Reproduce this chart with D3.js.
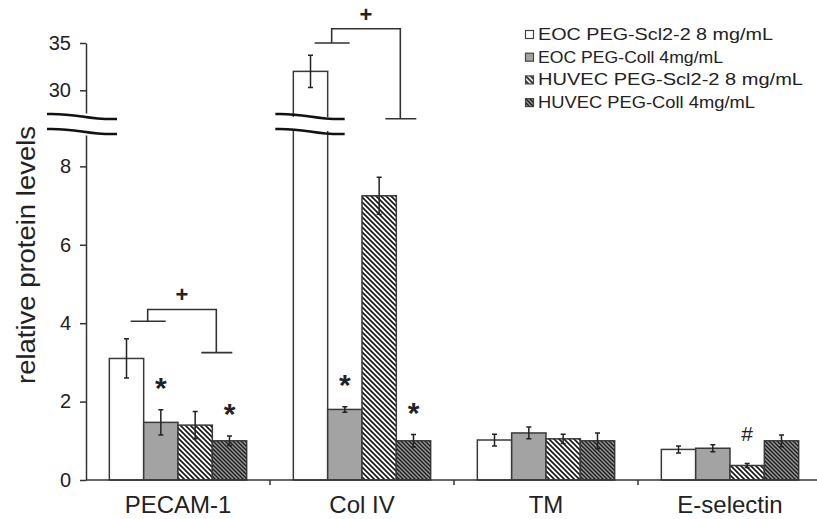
<!DOCTYPE html>
<html>
<head>
<meta charset="utf-8">
<script src="https://cdn.jsdelivr.net/npm/d3@7"></script>
<style>
  body { margin: 0; background: #fff; }
  text { font-family: Arial, "Liberation Sans", sans-serif; fill: #222; }
</style>
</head>
<body>
<svg id="chart" width="817" height="519"></svg>
<script>
// data
var categories = ["PECAM-1", "Col IV", "TM", "E-selectin"];
var seriesNames = ["EOC PEG-Scl2-2 8 mg/mL", "EOC PEG-Coll 4mg/mL", "HUVEC PEG-Scl2-2 8 mg/mL", "HUVEC PEG-Coll 4mg/mL"];
var eocScl = [3.1, 32.0, 1.02, 0.78];
var eocSclErr = [0.5, 1.7, 0.15, 0.09];
var eocColl = [1.47, 1.8, 1.2, 0.81];
var eocCollErr = [0.32, 0.07, 0.15, 0.09];
var huvecScl = [1.4, 7.25, 1.05, 0.37];
var huvecSclErr = [0.35, 0.47, 0.12, 0.05];
var huvecColl = [1.0, 1.0, 1.0, 1.0];
var huvecCollErr = [0.12, 0.16, 0.2, 0.15];
var lowTicks = [0, 2, 4, 6, 8];
var highTicks = [30, 35];
// significance marks: [category, series index, symbol]
var marks = [["PECAM-1", 1, "*"], ["PECAM-1", 3, "*"], ["Col IV", 1, "*"], ["Col IV", 3, "*"], ["E-selectin", 2, "#"]];
// brackets: category, left level, top level, right level
var brackets = [["PECAM-1", 4.05, 4.35, 3.25], ["Col IV", 35, 36.5, 27]];

var values = [eocScl, eocColl, huvecScl, huvecColl];
var errors = [eocSclErr, eocCollErr, huvecSclErr, huvecCollErr];

var svg = d3.select("#chart");

var x = d3.scaleBand().domain(categories).range([86, 822]).padding(0);
var xs = d3.scaleBand().domain(d3.range(4)).range([0, x.bandwidth()]).paddingInner(0).paddingOuter(0.68);
var yLow = d3.scaleLinear().domain([0, 8.8]).range([480, 135]);
var yHigh = d3.scaleLinear().domain([27.6, 35]).range([113, 43]);
function y(v) { return v <= 8.8 ? yLow(v) : yHigh(v); }

// hatch patterns
var defs = svg.append("defs");
function hatch(id, bg, size, w) {
    var p = defs.append("pattern").attr("id", id).attr("patternUnits", "userSpaceOnUse")
        .attr("width", size).attr("height", size);
    p.append("rect").attr("width", size).attr("height", size).attr("fill", bg);
    p.append("path")
        .attr("d", "M0,0L" + size + "," + size + "M" + (-size) + ",0L" + size + "," + (2 * size) + "M0," + (-size) + "L" + (2 * size) + "," + size)
        .attr("stroke", "#1a1a1a").attr("stroke-width", w);
}
hatch("hLight", "#fff", 5, 1.7);
hatch("hDark", "#9a9a9a", 4, 1.4);
var fills = ["#fff", "#a3a3a3", "url(#hLight)", "url(#hDark)"];

// bars
var g = svg.append("g");
values.forEach(function(arr, s) {
    g.selectAll(".b" + s).data(categories).enter().append("rect")
        .attr("x", function(c) { return x(c) + xs(s); })
        .attr("y", function(c, i) { return y(arr[i]); })
        .attr("width", xs.bandwidth())
        .attr("height", function(c, i) { return y(0) - y(arr[i]); })
        .attr("fill", fills[s])
        .attr("stroke", "#3a3a3a").attr("stroke-width", 1.5);
});

// error bars
values.forEach(function(arr, s) {
    categories.forEach(function(c, i) {
        var cx = x(c) + xs(s) + xs.bandwidth() / 2;
        var hi = y(arr[i] + errors[s][i]), lo = y(arr[i] - errors[s][i]);
        g.append("path")
            .attr("d", "M" + cx + "," + hi + "V" + lo + "M" + (cx - 2.5) + "," + hi + "H" + (cx + 2.5) + "M" + (cx - 2.5) + "," + lo + "H" + (cx + 2.5))
            .attr("stroke", "#222").attr("stroke-width", 1.5).attr("fill", "none");
    });
});

// axes
svg.append("g").attr("transform", "translate(86,0)")
    .call(d3.axisLeft(yLow).tickValues(lowTicks).tickSize(6).tickSizeOuter(0).tickPadding(9));
svg.append("g").attr("transform", "translate(86,0)")
    .call(d3.axisLeft(yHigh).tickValues(highTicks).tickSize(6).tickSizeOuter(0).tickPadding(9));
svg.selectAll(".tick text").style("font-size", "20px").attr("fill", "#222");
svg.selectAll(".domain, .tick line").attr("stroke", "#333").attr("stroke-width", 1.5);

svg.append("line").attr("x1", 86).attr("x2", 822).attr("y1", y(0)).attr("y2", y(0))
    .attr("stroke", "#333").attr("stroke-width", 1.5);
categories.slice(1).forEach(function(c) {
    svg.append("line").attr("x1", x(c)).attr("x2", x(c)).attr("y1", y(0)).attr("y2", y(0) + 5)
        .attr("stroke", "#333").attr("stroke-width", 1.5);
});
svg.selectAll(".cat").data(categories).enter().append("text")
    .attr("x", function(c) { return x(c) + x.bandwidth() / 2; })
    .attr("y", 513).attr("text-anchor", "middle").style("font-size", "24px")
    .text(function(c) { return c; });

svg.append("text").attr("transform", "translate(35,255) rotate(-90)")
    .attr("text-anchor", "middle").style("font-size", "25px")
    .attr("textLength", 258).attr("lengthAdjust", "spacingAndGlyphs")
    .text("relative protein levels");

// axis breaks
function brk(x0, x1) {
    var yb = (yHigh.range()[0] + yLow.range()[1]) / 2;
    svg.append("rect").attr("x", x0).attr("y", yb - 7).attr("width", x1 - x0).attr("height", 14).attr("fill", "#fff");
    [-7.5, 7.5].forEach(function(d) {
        var y0 = yb + d - 2.5;
        svg.append("path")
            .attr("d", "M" + x0 + "," + y0 + "C" + (x0 + (x1 - x0) * 0.45) + "," + (y0 - 1) + " " + (x0 + (x1 - x0) * 0.55) + "," + (y0 + 6) + " " + x1 + "," + (y0 + 5))
            .attr("stroke", "#111").attr("stroke-width", 2.4).attr("fill", "none");
    });
}
brk(47, 117);
brk(x("Col IV") + xs(0) - 18, x("Col IV") + xs(0) + xs.bandwidth() + 17);

// significance marks
marks.forEach(function(m) {
    var i = categories.indexOf(m[0]), s = m[1];
    var top = y(values[s][i] + errors[s][i]);
    svg.append("text")
        .attr("x", x(m[0]) + xs(s) + xs.bandwidth() / 2)
        .attr("y", m[2] == "*" ? top - 12 : top - 23)
        .attr("text-anchor", "middle")
        .style("font-size", m[2] == "*" ? "30px" : "21px")
        .style("font-weight", m[2] == "*" ? "bold" : "normal")
        .text(m[2]);
});

// brackets
brackets.forEach(function(b) {
    var xl = x(b[0]) + xs(1) + 4, xr = x(b[0]) + xs(3) + 4;
    svg.append("path")
        .attr("d", "M" + (xl - 17) + "," + y(b[1]) + "H" + (xl + 18) + "M" + xl + "," + y(b[1]) + "V" + y(b[2]) + "H" + xr + "V" + y(b[3]) + "M" + (xr - 15) + "," + y(b[3]) + "H" + (xr + 16))
        .attr("stroke", "#333").attr("stroke-width", 1.6).attr("fill", "none");
    svg.append("text").attr("x", (xl + xr) / 2).attr("y", y(b[2]) - 7)
        .attr("text-anchor", "middle").style("font-size", "22px").style("font-weight", "bold").text("+");
});

// legend
var leg = svg.append("g").attr("transform", "translate(525,30)");
seriesNames.forEach(function(n, s) {
    var r = leg.append("g").attr("transform", "translate(0," + (s * 22.7) + ")");
    r.append("rect").attr("x", 0.5).attr("y", 0.5).attr("width", 8).attr("height", 8)
        .attr("fill", fills[s]).attr("stroke", "#444").attr("stroke-width", 1.2);
    r.append("text").attr("x", 13).attr("y", 10).style("font-size", "17px")
        .attr("textLength", [235, 185, 265, 217][s]).attr("lengthAdjust", "spacingAndGlyphs")
        .text(n);
});
</script>
</body>
</html>
